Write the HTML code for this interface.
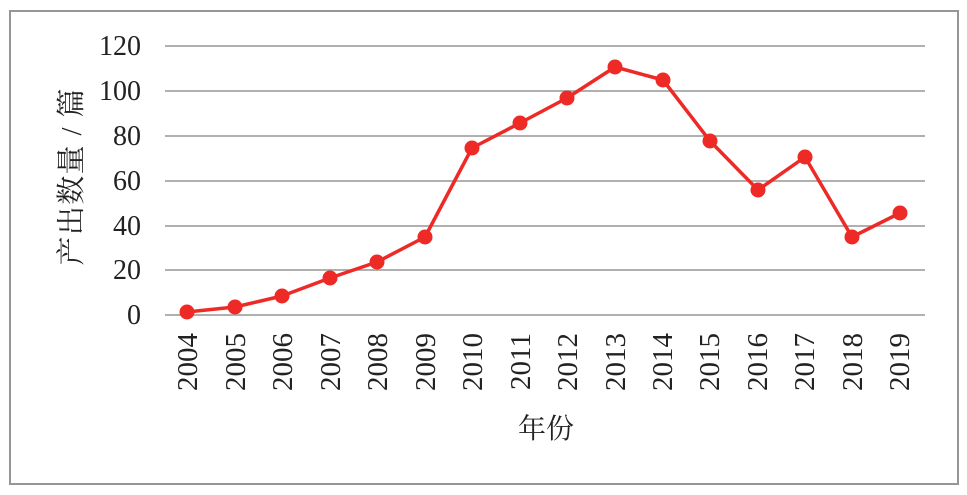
<!DOCTYPE html>
<html><head><meta charset="utf-8"><style>body{margin:0;background:#fff}</style></head>
<body>
<svg width="967" height="495" xmlns="http://www.w3.org/2000/svg" style="display:block">
<rect x="10" y="11" width="948" height="473" fill="#fff" stroke="#969696" stroke-width="2"/>
<g stroke="#969696" stroke-width="1.6">
<line x1="165" x2="925" y1="46" y2="46"/><line x1="165" x2="925" y1="91" y2="91"/>
<line x1="165" x2="925" y1="136" y2="136"/><line x1="165" x2="925" y1="181" y2="181"/>
<line x1="165" x2="925" y1="226" y2="226"/><line x1="165" x2="925" y1="270" y2="270"/>
<line x1="165" x2="925" y1="315" y2="315"/>
</g>
<g font-family="Liberation Serif, serif" font-size="28" fill="#222" text-anchor="end">
<text x="141" y="55">120</text><text x="141" y="100">100</text><text x="141" y="145">80</text>
<text x="141" y="190">60</text><text x="141" y="235">40</text><text x="141" y="279">20</text><text x="141" y="324">0</text>
</g>
<g font-family="Liberation Serif, serif" font-size="29" fill="#222" text-anchor="end">
<text transform="translate(197,333) rotate(-90)">2004</text>
<text transform="translate(245,333) rotate(-90)">2005</text>
<text transform="translate(292,333) rotate(-90)">2006</text>
<text transform="translate(340,333) rotate(-90)">2007</text>
<text transform="translate(387,333) rotate(-90)">2008</text>
<text transform="translate(435,333) rotate(-90)">2009</text>
<text transform="translate(482,333) rotate(-90)">2010</text>
<text transform="translate(530,333) rotate(-90)">2011</text>
<text transform="translate(577,333) rotate(-90)">2012</text>
<text transform="translate(625,333) rotate(-90)">2013</text>
<text transform="translate(672,333) rotate(-90)">2014</text>
<text transform="translate(719,333) rotate(-90)">2015</text>
<text transform="translate(767,333) rotate(-90)">2016</text>
<text transform="translate(814,333) rotate(-90)">2017</text>
<text transform="translate(862,333) rotate(-90)">2018</text>
<text transform="translate(909,333) rotate(-90)">2019</text>
</g>
<text transform="translate(81,177) rotate(-90)" text-anchor="middle" textLength="177" lengthAdjust="spacing" font-family="Liberation Serif, 'Noto Serif CJK SC', serif" font-size="29" fill="#222">产出数量 / 篇</text>
<text x="546" y="438" text-anchor="middle" font-family="Liberation Serif, 'Noto Serif CJK SC', serif" font-size="28" fill="#222">年份</text>
<polyline fill="none" stroke="#ee2a26" stroke-width="3.5" stroke-linejoin="round" points="187,312 235,307 282,296 330,278 377,262 425,237 472,148 520,123 567,98 615,67 663,80 710,141 758,190 805,157 852,237 900,213"/>
<g fill="#ee2a26">
<circle cx="187" cy="312" r="7.5"/><circle cx="235" cy="307" r="7.5"/><circle cx="282" cy="296" r="7.5"/>
<circle cx="330" cy="278" r="7.5"/><circle cx="377" cy="262" r="7.5"/><circle cx="425" cy="237" r="7.5"/>
<circle cx="472" cy="148" r="7.5"/><circle cx="520" cy="123" r="7.5"/><circle cx="567" cy="98" r="7.5"/>
<circle cx="615" cy="67" r="7.5"/><circle cx="663" cy="80" r="7.5"/><circle cx="710" cy="141" r="7.5"/>
<circle cx="758" cy="190" r="7.5"/><circle cx="805" cy="157" r="7.5"/><circle cx="852" cy="237" r="7.5"/>
<circle cx="900" cy="213" r="7.5"/>
</g>
</svg>
</body></html>
